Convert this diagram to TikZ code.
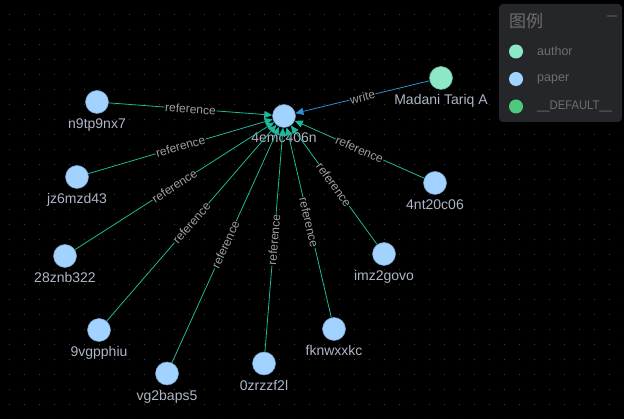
\documentclass[tikz,border=0pt]{standalone}
\usepackage{fontspec}
\setmainfont{Liberation Sans}
\newfontfamily\cjk{Noto Sans CJK SC}
\usetikzlibrary{arrows.meta}
\definecolor{bgc}{HTML}{000000}
\definecolor{dotc}{HTML}{3A3A3A}
\definecolor{paperc}{HTML}{A2D2FF}
\definecolor{authorc}{HTML}{8DE8C8}
\definecolor{defc}{HTML}{4CC97A}
\definecolor{refc}{HTML}{1FB89A}
\definecolor{writec}{HTML}{2E8FD8}
\definecolor{lblc}{HTML}{AEB5C5}
\definecolor{elc}{HTML}{A0A0A0}
\definecolor{legbg}{HTML}{25262A}
\definecolor{legtxt}{HTML}{6E6E6E}
\tikzset{
  paper/.style={circle,fill=paperc,draw=paperc!75!black,line width=0.5pt,minimum size=23pt,inner sep=0pt},
  author/.style={circle,fill=authorc,draw=authorc!75!black,line width=0.5pt,minimum size=23pt,inner sep=0pt},
  lbl/.style={text=lblc,font=\fontsize{14}{14}\selectfont,inner sep=0pt},
  refedge/.style={draw=refc,line width=0.8pt,-{Triangle[length=8pt,width=7pt]},color=refc},
  writeedge/.style={draw=writec,line width=0.8pt,-{Triangle[length=8pt,width=7pt]},color=writec},
  elbl/.style={sloped,midway,fill=bgc,inner sep=0.6pt,text=elc,font=\fontsize{12}{12}\selectfont},
  legdot/.style={circle,minimum size=14pt,inner sep=0pt},
  legtext/.style={anchor=west,text=legtxt,font=\fontsize{12.5}{12.5}\selectfont,inner sep=0pt}
}
\begin{document}
\begin{tikzpicture}[x=1pt,y=-1pt]
\fill[bgc] (0,0) rectangle (624,419);
\useasboundingbox (0,0) rectangle (624,419);
% dotted grid
\foreach \i in {0,...,41}{
  \foreach \j in {0,...,27}{
    \fill[dotc] ({9.5+15*\i},{14.5+15*\j}) circle (0.55pt);
  }
}
% nodes
\node[paper,label={[lbl,label distance=4.5pt]below:4emc406n}] (c) at (284,116) {};
\node[author,label={[lbl,label distance=4.5pt]below:Madani Tariq A}] (ma) at (441,78) {};
\node[paper,label={[lbl,label distance=4.5pt]below:n9tp9nx7}] (n1) at (97,102) {};
\node[paper,label={[lbl,label distance=4.5pt]below:jz6mzd43}] (n2) at (77,177) {};
\node[paper,label={[lbl,label distance=4.5pt]below:28znb322}] (n3) at (65,256) {};
\node[paper,label={[lbl,label distance=4.5pt]below:9vgpphiu}] (n4) at (99,330) {};
\node[paper,label={[lbl,label distance=4.5pt]below:vg2baps5}] (n5) at (167,373.5) {};
\node[paper,label={[lbl,label distance=4.5pt]below:0zrzzf2l}] (n6) at (264,363.5) {};
\node[paper,label={[lbl,label distance=4.5pt]below:fknwxxkc}] (n7) at (334,329) {};
\node[paper,label={[lbl,label distance=4.5pt]below:imz2govo}] (n8) at (384,254) {};
\node[paper,label={[lbl,label distance=4.5pt]below:4nt20c06}] (n9) at (435,183) {};
% edges
\draw[writeedge] (ma) -- (c) node[elbl] {write};
\foreach \n in {n1,n2,n3,n4,n5,n6,n7,n8,n9}{
  \draw[refedge] (\n) -- (c) node[elbl] {reference};
}
% legend
\fill[legbg,rounded corners=4pt] (499,4) rectangle (622,122);
\node[anchor=west,text=legtxt,font=\cjk\fontsize{17}{17}\selectfont,inner sep=0pt] (lt) at (509,21) {图例};
\coordinate (m1) at (607,16);
\coordinate (m2) at (617,16);
\draw[legtxt!130,line width=1.6pt] (m1) -- (m2);
\node[legdot,fill=authorc] (la) at (516,51.5) {};
\node[legtext] (lat) at (537,51.5) {author};
\node[legdot,fill=paperc] (lp) at (516,79) {};
\node[legtext] (lpt) at (537,79) {paper};
\node[legdot,fill=defc] (ld) at (516,106.5) {};
\node[legtext,xscale=0.9] (ldt) at (537,106.5) {\_\_DEFAULT\_\_};
\end{tikzpicture}
\end{document}
